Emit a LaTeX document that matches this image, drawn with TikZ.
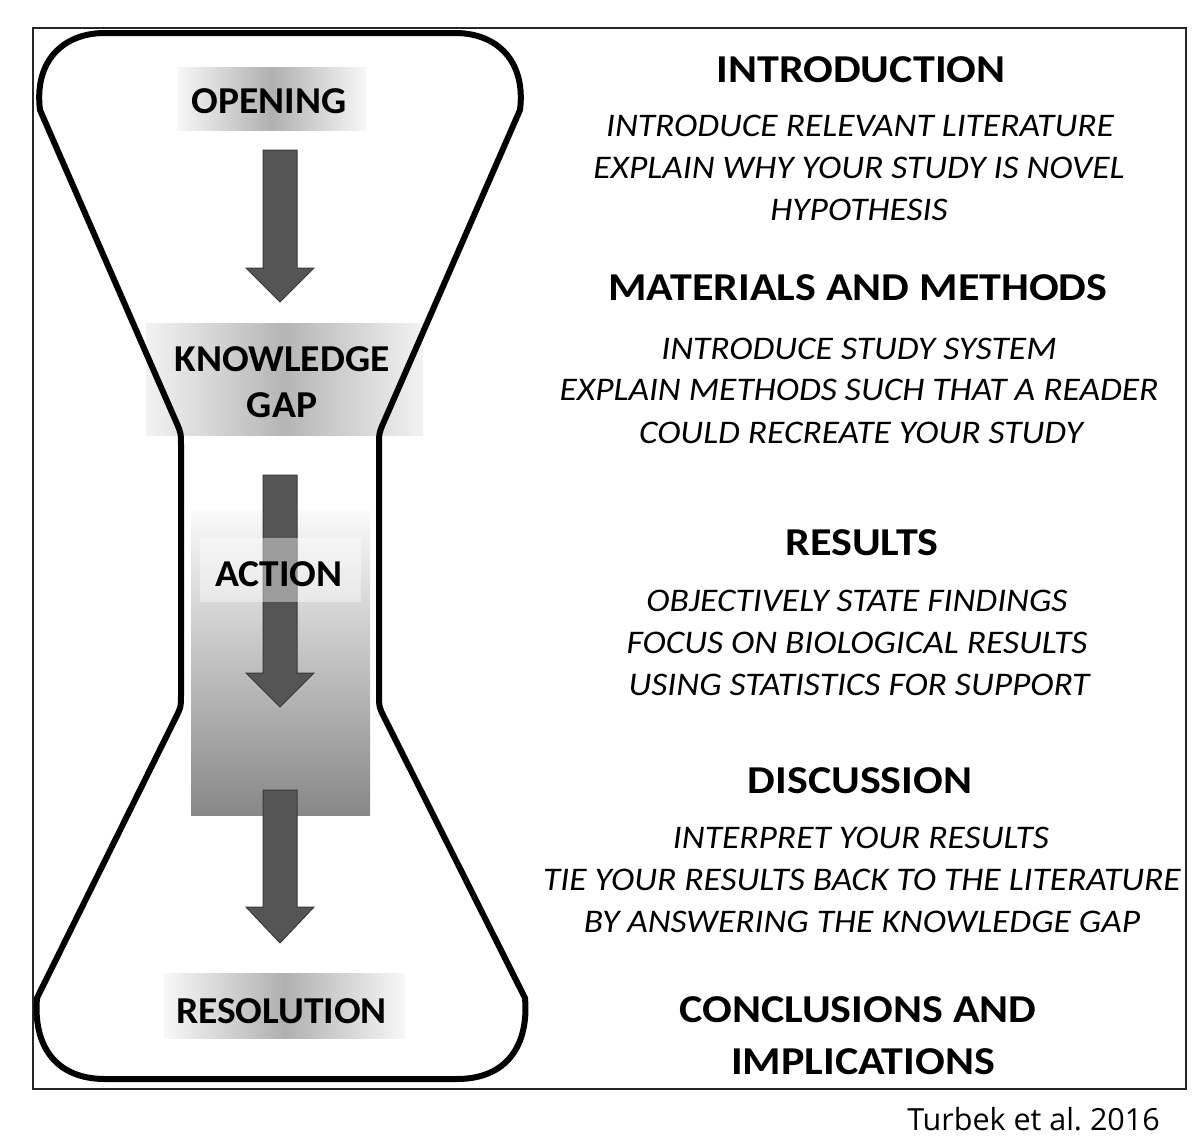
\documentclass[tikz,border=0pt]{standalone}
\usepackage{fontspec}
\setmainfont{Carlito}
\newfontfamily\headfont[FakeStretch=1.115]{Carlito}
\newfontfamily\subfont[FakeStretch=1.075]{Carlito}
\newfontfamily\labelfont[FakeStretch=1.04]{Carlito}
\newfontfamily\citefont{Open Sans}
\usetikzlibrary{calc}
\definecolor{arrowfill}{HTML}{555555}
\definecolor{arrowline}{HTML}{3A3A3A}
\newcommand{\blkarrow}[4]{%
  \filldraw[arrowshape] (#1-17,#2) -- (#1+17,#2) -- (#1+17,#3) -- (#1+34,#3) -- (#1,#4) -- (#1-34,#3) -- (#1-17,#3) -- cycle;}
\tikzset{
  arrowshape/.style={fill=arrowfill, draw=arrowline, line width=1pt, line join=miter},
  outline/.style={draw=black, line width=6pt, line join=round},
  frameline/.style={draw=black!85, line width=1.5pt},
  headtext/.style={font=\fontsize{39.5}{42}\selectfont\headfont\bfseries, anchor=base, inner sep=0pt},
  subtext/.style={font=\fontsize{33}{36}\selectfont\subfont\itshape, anchor=base, inner sep=0pt},
  labeltext/.style={font=\fontsize{38}{40}\selectfont\labelfont\bfseries, anchor=base, inner sep=0pt},
  citetext/.style={font=\fontsize{30.5}{32}\selectfont\citefont, anchor=base east, inner sep=0pt},
  glowbox/.style={left color=gray!6, right color=gray!6, middle color=gray!62, draw=none},
  glowboxlight/.style={left color=gray!10, right color=gray!10, middle color=gray!58, draw=none},
}
\begin{document}
\begin{tikzpicture}[x=1pt,y=-1pt]
\useasboundingbox (0,0) rectangle (1200,1146);
\fill[white] (0,0) rectangle (1200,1146);
% frame
\draw[frameline] (33,28) rectangle (1186,1089);
% shaded label boxes
\shade[glowbox] (177,67) rectangle (366,130);
\shade[glowboxlight] (146,323) rectangle (423,435);
\shade[top color=gray!4, bottom color=black!47, draw=none] (191,510) rectangle (370,815);
\shade[glowbox] (164,973) rectangle (405,1038);
% arrows
\blkarrow{280}{150}{268}{302}
\blkarrow{280}{475}{673}{707}
\blkarrow{280}{790}{907}{943}
% translucent label panel for ACTION
\fill[white, opacity=0.42] (200,538) rectangle (361,602);
% hourglass outline
\coordinate (NRT) at (379,433);
\coordinate (NRB) at (379,707);
\coordinate (NLB) at (181,707);
\coordinate (NLT) at (181,433);
\coordinate (TRs) at (520,110);
\coordinate (TLs) at (40,110);
\coordinate (BRs) at (525,998);
\coordinate (BLs) at (37,998);
\draw[outline] (105,33) -- (455,33)
 .. controls (498,33) and (526,62) .. (TRs)
 -- ($(NRT)!12pt!(TRs)$) .. controls (NRT) .. ($(NRT)!12pt!(NRB)$)
 -- ($(NRB)!12pt!(NRT)$) .. controls (NRB) .. ($(NRB)!12pt!(BRs)$)
 -- (BRs) .. controls (529,1045) and (507,1079) .. (457,1079)
 -- (105,1079) .. controls (55,1079) and (33,1045) .. (BLs)
 -- ($(NLB)!12pt!(BLs)$) .. controls (NLB) .. ($(NLB)!12pt!(NLT)$)
 -- ($(NLT)!12pt!(NLB)$) .. controls (NLT) .. ($(NLT)!12pt!(TLs)$)
 -- (TLs) .. controls (34,62) and (62,33) .. (105,33)
 -- cycle;
% left labels
\node[labeltext] (opening) at (269,113) {OPENING};
\node[labeltext] (kg1) at (282,371) {KNOWLEDGE};
\node[labeltext] (kg2) at (282,417) {GAP};
\node[labeltext] (action) at (279,586) {ACTION};
\node[labeltext] (resolution) at (281.5,1023) {RESOLUTION};
% right column
\node[headtext] (intro) at (861,82) {INTRODUCTION};
\node[subtext] (intro1) at (860,136) {INTRODUCE RELEVANT LITERATURE};
\node[subtext] (intro2) at (859,178) {EXPLAIN WHY YOUR STUDY IS NOVEL};
\node[subtext] (intro3) at (859,220) {HYPOTHESIS};
\node[headtext] (meth) at (858,300) {MATERIALS AND METHODS};
\node[subtext] (meth1) at (859,359) {INTRODUCE STUDY SYSTEM};
\node[subtext] (meth2) at (859,400) {EXPLAIN METHODS SUCH THAT A READER};
\node[subtext] (meth3) at (861,443) {COULD RECREATE YOUR STUDY};
\node[headtext] (res) at (862,555) {RESULTS};
\node[subtext] (res1) at (857,611) {OBJECTIVELY STATE FINDINGS};
\node[subtext] (res2) at (857,653) {FOCUS ON BIOLOGICAL RESULTS};
\node[subtext] (res3) at (859,695) {USING STATISTICS FOR SUPPORT};
\node[headtext] (disc) at (860,793) {DISCUSSION};
\node[subtext] (disc1) at (861,848) {INTERPRET YOUR RESULTS};
\node[subtext] (disc2) at (862,890) {TIE YOUR RESULTS BACK TO THE LITERATURE};
\node[subtext] (disc3) at (862,932) {BY ANSWERING THE KNOWLEDGE GAP};
\node[headtext] (concl1) at (858,1022) {CONCLUSIONS AND};
\node[headtext] (concl2) at (863,1074) {IMPLICATIONS};
% citation
\node[citetext] (cite) at (1160,1130) {Turbek et al.\ 2016};
\end{tikzpicture}
\end{document}
